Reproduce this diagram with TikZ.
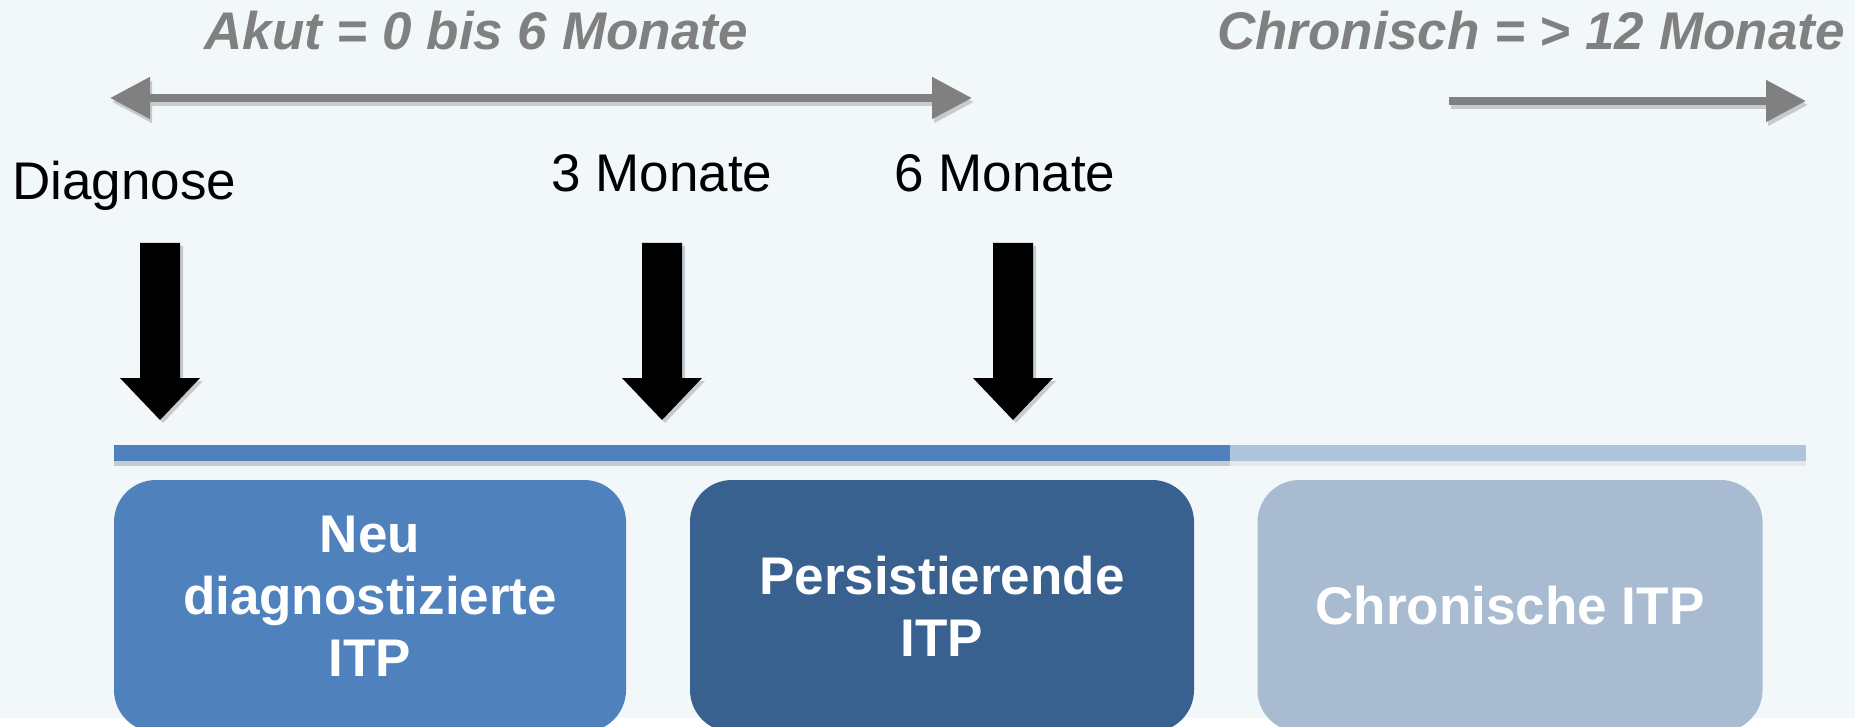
\documentclass[tikz,border=0pt]{standalone}
\usepackage{fontspec}
\setmainfont{Liberation Sans}
\usepackage{tikz}
\usetikzlibrary{arrows.meta,positioning,calc}
\definecolor{paper}{HTML}{F2F7FA}
\definecolor{dropgray}{HTML}{C6CBD0}
\definecolor{spangray}{HTML}{808080}
\definecolor{acute}{HTML}{4F81BD}
\definecolor{persist}{HTML}{38618F}
\definecolor{chronic}{HTML}{A9BBD1}
\definecolor{chronbar}{HTML}{AEC3DC}

\begin{document}
\begin{tikzpicture}[x=1pt,y=-1pt,>={Triangle[width=40pt,length=40pt]},
  every node/.style={inner sep=0pt,font=\fontsize{53}{62}\selectfont},
  spanlabel/.style={font=\fontsize{53}{62}\selectfont\bfseries\itshape,text=spangray},
  spanline/.style={line width=8pt},
  phase/.style={rounded corners=42pt,minimum width=#1,minimum height=252pt,text=white,align=center,
    font=\fontsize{53}{62}\selectfont\bfseries}]
  % page
  \fill[paper] (0,0) rectangle (1855,718);
  \fill[white] (0,718) rectangle (1855,727);
  \useasboundingbox (0,0) rectangle (1855,727);

  % spans on top
  \node[spanlabel,anchor=base] (akut) at (476,50) {Akut = 0 bis 6 Monate};
  \node[spanlabel,anchor=base] (chron) at (1531,50) {Chronisch = > 12 Monate};
  \coordinate (akut-l) at (110,98);   \coordinate (akut-r) at (972,98);
  \coordinate (chron-l) at (1449,101); \coordinate (chron-r) at (1806,101);
  \draw[spanline,dropgray,<->] ([shift={(2,4)}]akut-l) -- ([shift={(2,4)}]akut-r);
  \draw[spanline,spangray,<->] (akut-l) -- (akut-r);
  \draw[spanline,dropgray,->] ([shift={(2,4)}]chron-l) -- ([shift={(2,4)}]chron-r);
  \draw[spanline,spangray,->] (chron-l) -- (chron-r);

  % time points
  \node[anchor=base west] (diag) at (12,200) {Diagnose};
  \node[anchor=base] (m3) at (662,192) {3 Monate};
  \node[anchor=base] (m6) at (1005,192) {6 Monate};
  \foreach \x/\n in {160/diag, 662/m3, 1013/m6} {
    \coordinate (\n-tip) at (\x,420);
    \fill[dropgray] ([shift={(3,3)}]\n-tip) -- ++(-40,-42) -- ++(20,0) -- ++(0,-135) -- ++(40,0) -- ++(0,135) -- ++(20,0) -- cycle;
    \fill[black] (\n-tip) -- ++(-40,-42) -- ++(20,0) -- ++(0,-135) -- ++(40,0) -- ++(0,135) -- ++(20,0) -- cycle;
  }

  % time bar
  \fill[dropgray] (114,461) rectangle (1230,466);
  \fill[dropgray!45] (1230,461) rectangle (1806,466);
  \fill[acute] (114,445) rectangle (1230,461);
  \fill[chronbar] (1230,445) rectangle (1806,461);

  % phases
  \node[phase=512pt,fill=acute] (neu) at (370,606) {Neu\\diagnostizierte\\ITP\strut};
  \node[phase=504pt,fill=persist] (pers) at (942,606) {Persistierende\\ITP};
  \node[phase=505pt,fill=chronic] (chr) at (1510,606) {Chronische ITP};
\end{tikzpicture}
\end{document}
